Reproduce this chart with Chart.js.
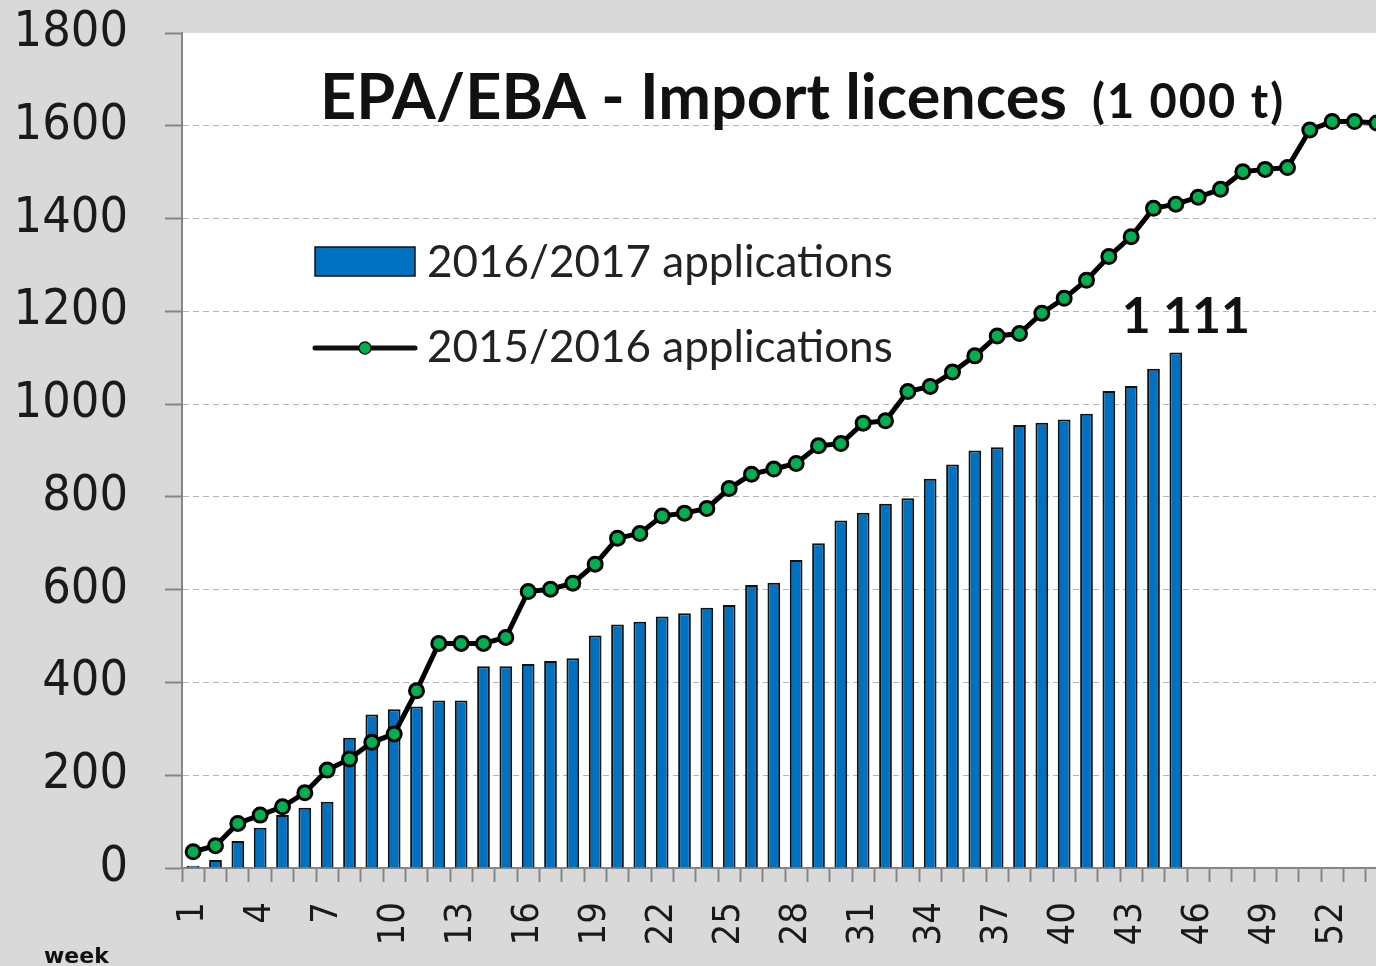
<!DOCTYPE html>
<html>
<head>
<meta charset="utf-8">
<script src="https://cdn.jsdelivr.net/npm/chart.js@4.4.0/dist/chart.umd.min.js"></script>
<style>
    html, body { margin: 0; padding: 0; background: #d9d9d9; overflow: hidden; }
    #wrap { position: relative; width: 1376px; height: 966px; overflow: hidden; }
    #chart { position: absolute; left: 0; top: 0; }
</style>
</head>
<body>
<div id="wrap"><canvas id="chart" width="1400" height="966"></canvas></div>
<script>
// week numbers on the x axis
const weeks = ['1', '2', '3', '4', '5', '6', '7', '8', '9', '10',
    '11', '12', '13', '14', '15', '16', '17', '18', '19', '20',
    '21', '22', '23', '24', '25', '26', '27', '28', '29', '30',
    '31', '32', '33', '34', '35', '36', '37', '38', '39', '40',
    '41', '42', '43', '44', '45', '46', '47', '48', '49', '50',
    '51', '52', '53', '54'];

// 2016/2017 applications (1 000 t), cumulative
const apps2016 = [5, 17, 58, 87, 114, 130, 143, 281, 331, 342,
    348, 361, 361, 435, 435, 440, 446, 452, 501, 525,
    531, 542, 549, 561, 567, 610, 615, 664, 700, 749,
    766, 785, 797, 839, 870, 900, 907, 955, 960, 967,
    979, 1028, 1039, 1076, 1111];

// 2015/2016 applications (1 000 t), cumulative
const apps2015 = [35, 48, 96, 114, 132, 162, 211, 235, 271, 289,
    382, 484, 484, 484, 497, 596, 601, 614, 655, 711,
    721, 759, 765, 775, 818, 849, 860, 872, 910, 915,
    959, 964, 1027, 1038, 1069, 1104, 1147, 1152, 1196, 1228,
    1267, 1318, 1361, 1422, 1431, 1446, 1463, 1501, 1506, 1510,
    1591, 1609, 1609, 1606];

const yTicks = [0, 200, 400, 600, 800, 1000, 1200, 1400, 1600, 1800];

const BLUE = '#0070c0';
const GREEN = '#00b050';
const AXIS = '#868686';

// white plot area on the grey page
const plotBg = {
    id: 'plotBg',
    beforeDraw(chart) {
        const { ctx, chartArea: a } = chart;
        ctx.save();
        ctx.fillStyle = '#ffffff';
        ctx.fillRect(a.left, a.top, a.right - a.left, a.bottom - a.top);
        ctx.restore();
    }
};

// label over the last bar
const lastBarLabel = {
    id: 'lastBarLabel',
    afterDatasetsDraw(chart) {
        const meta = chart.getDatasetMeta(1);
        const i = apps2016.length - 1;
        const bar = meta.data[i];
        if (!bar) return;
        const ctx = chart.ctx;
        ctx.save();
        ctx.font = 'bold 50px Lato';
        ctx.fillStyle = '#111';
        ctx.textAlign = 'center';
        ctx.textBaseline = 'alphabetic';
        const txt = String(apps2016[i]).replace(/\B(?=(\d{3})+(?!\d))/g, ' ');
        ctx.fillText(txt, bar.x + 10, bar.y - 20);
        ctx.restore();
    }
};

// title, legend and axis caption
const overlay = {
    id: 'overlay',
    afterDraw(chart) {
        const ctx = chart.ctx;
        ctx.save();
        ctx.fillStyle = '#111';
        ctx.textBaseline = 'alphabetic';
        ctx.textAlign = 'left';

        ctx.font = 'bold 63px Lato';
        ctx.fillText('EPA/EBA - Import licences', 320, 119);
        ctx.font = 'bold 47px Lato';
        ctx.letterSpacing = '2px';
        ctx.fillText('(1 000 t)', 1092, 118);
        ctx.letterSpacing = '0px';

        // legend: bars
        ctx.fillStyle = BLUE;
        ctx.fillRect(315, 247, 100, 29);
        ctx.strokeStyle = '#111';
        ctx.lineWidth = 1.5;
        ctx.strokeRect(315, 247, 100, 29);

        // legend: line
        ctx.beginPath();
        ctx.lineWidth = 5;
        ctx.lineCap = 'round';
        ctx.moveTo(315, 348);
        ctx.lineTo(415, 348);
        ctx.stroke();
        ctx.beginPath();
        ctx.arc(365, 348, 6, 0, Math.PI * 2);
        ctx.fillStyle = GREEN;
        ctx.fill();
        ctx.lineWidth = 1.5;
        ctx.stroke();

        ctx.fillStyle = '#222';
        ctx.font = '44px Lato';
        ctx.fillText('2016/2017 applications', 427, 277);
        ctx.fillText('2015/2016 applications', 427, 362);

        ctx.fillStyle = '#111';
        ctx.font = 'bold 22px "DejaVu Sans"';
        ctx.fillText('week', 44, 963);
        ctx.restore();
    }
};

// keep label overhang from moving the plot area
function noPadding(scale) {
    scale.paddingTop = 0;
    scale.paddingBottom = 0;
    scale.paddingLeft = 0;
    scale.paddingRight = 0;
}

const ctx = document.getElementById('chart').getContext('2d');
new Chart(ctx, {
    data: {
        labels: weeks,
        datasets: [{
            type: 'line',
            label: '2015/2016 applications',
            data: apps2015,
            borderColor: '#000',
            borderWidth: 5,
            pointRadius: 7,
            pointBorderWidth: 3,
            pointBackgroundColor: GREEN,
            pointBorderColor: '#000',
            tension: 0,
            clip: false,
            order: 0
        }, {
            type: 'bar',
            label: '2016/2017 applications',
            data: apps2016,
            backgroundColor: BLUE,
            borderColor: '#111',
            borderWidth: 2,
            borderSkipped: 'bottom',
            categoryPercentage: 1,
            barPercentage: 0.57,
            order: 1
        }]
    },
    options: {
        responsive: false,
        animation: false,
        devicePixelRatio: 1,
        layout: { padding: { top: 33, right: 12, left: 0, bottom: 0 } },
        plugins: {
            legend: { display: false },
            title: { display: false },
            tooltip: { enabled: false }
        },
        scales: {
            x: {
                offset: true,
                afterFit(scale) {
                    scale.height = 98;
                    noPadding(scale);
                },
                grid: {
                    offset: true,
                    drawOnChartArea: false,
                    drawTicks: true,
                    tickLength: 14,
                    tickColor: AXIS,
                    tickWidth: 2
                },
                border: { color: AXIS, width: 2 },
                ticks: {
                    autoSkip: false,
                    maxRotation: 90,
                    minRotation: 90,
                    padding: 20,
                    color: '#1a1a1a',
                    font: { family: '"DejaVu Sans Condensed", "DejaVu Sans"', size: 38 },
                    callback(value, index) {
                        return index % 3 === 0 ? weeks[index] : '';
                    }
                }
            },
            y: {
                min: yTicks[0],
                max: yTicks[yTicks.length - 1],
                afterFit(scale) {
                    scale.width = 182;
                    noPadding(scale);
                },
                afterBuildTicks(scale) {
                    scale.ticks = yTicks.map(v => ({ value: v }));
                },
                grid: {
                    color: c => (c.tick && c.tick.value === 1800) ? 'rgba(0,0,0,0)' : '#b4b4b4',
                    lineWidth: 1,
                    tickLength: 17,
                    tickColor: AXIS,
                    tickWidth: 2
                },
                border: { color: AXIS, width: 2, dash: [6, 4] },
                ticks: {
                    padding: 37,
                    color: '#1a1a1a',
                    font: { family: '"DejaVu Sans Condensed", "DejaVu Sans"', size: 50 },
                    callback: v => String(v)
                }
            }
        }
    },
    plugins: [plotBg, lastBarLabel, overlay]
});
</script>
</body>
</html>
